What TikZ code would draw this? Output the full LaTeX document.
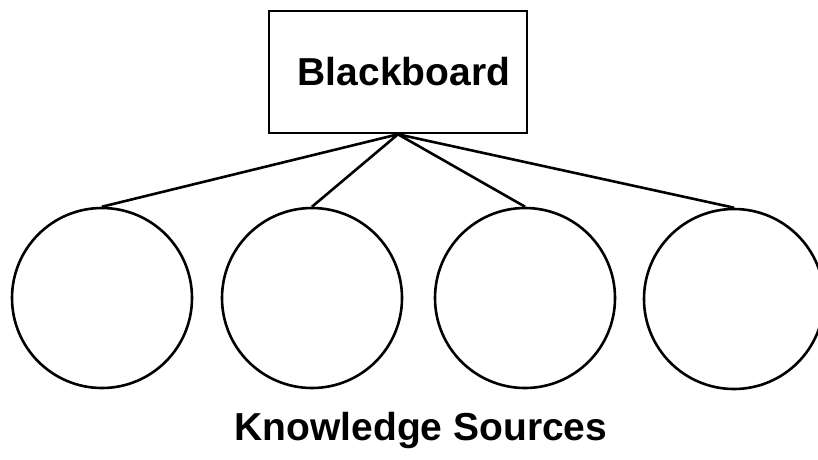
\documentclass[tikz,border=0pt]{standalone}
\usepackage{fontspec}
\setmainfont{Liberation Sans}
\usepackage{tikz}

\begin{document}
\begin{tikzpicture}[x=1pt,y=-1pt]
					\tikzstyle{board} = [rectangle,draw=black,line width=2.6pt,minimum width=258pt,minimum height=122pt,inner sep=0pt,font=\bfseries\fontsize{39}{45}\selectfont]
					\tikzstyle{source} = [circle,draw=black,line width=2.6pt,minimum size=180pt,inner sep=0pt]
					\tikzstyle{edge} = [-,line width=2.6pt]
					\clip (0,0) rectangle (818,459);
					\node[board] (bb) at (398,72) {\hspace{12pt}Blackboard};
					\node[source] (ks1) at (102,298) {};
					\node[source] (ks2) at (312,298) {};
					\node[source] (ks3) at (525,298) {};
					\node[source] (ks4) at (734,299) {};
					\node[anchor=base,font=\bfseries\fontsize{39}{45}\selectfont] (label) at (421,440) {Knowledge Sources};
					\draw[edge] (bb.south)--(ks1.north);
					\draw[edge] (bb.south)--(ks2.north);
					\draw[edge] (bb.south)--(ks3.north);
					\draw[edge] (bb.south)--(ks4.north);
					\end{tikzpicture}
\end{document}
